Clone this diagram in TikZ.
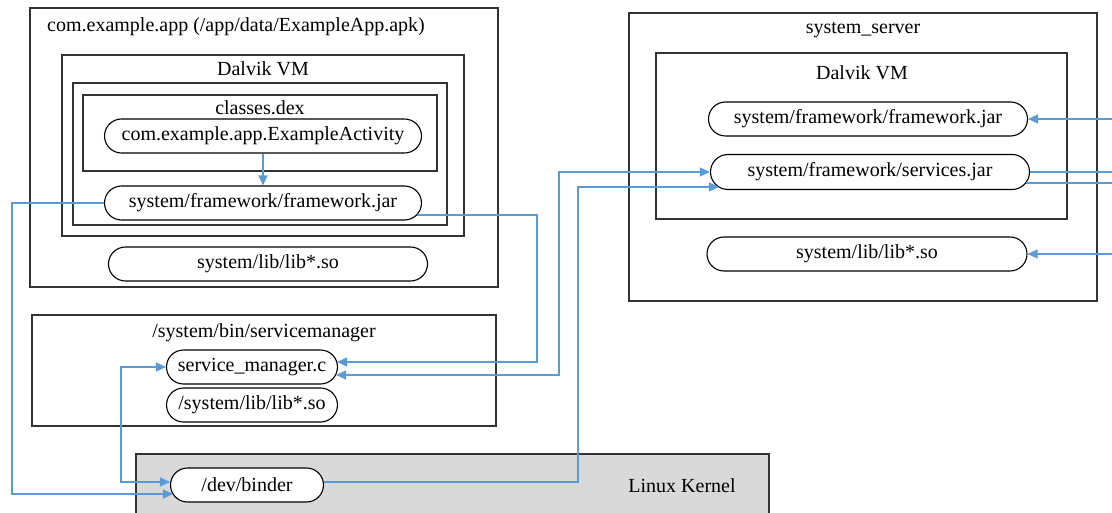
\documentclass[tikz,border=0pt]{standalone}
\usepackage{fontspec}
\setmainfont{Liberation Serif}
\usetikzlibrary{arrows.meta,calc,shapes.misc}
\definecolor{conn}{HTML}{5B9BD5}
\definecolor{kern}{HTML}{D9D9D9}
\begin{document}
\begin{tikzpicture}[x=1pt,y=-1pt,
  frame/.style={draw=black!80,line width=1.3pt,anchor=north west,inner sep=0pt,outer sep=0pt},
  pill/.style={rounded rectangle,draw=black,line width=1.1pt,fill=white,inner sep=0pt,minimum height=34pt,font=\fontsize{20}{24}\selectfont},
  lbl/.style={inner sep=0pt,font=\fontsize{20}{24}\selectfont},
  link/.style={draw=conn,line width=1.4pt},
  tip/.style={-{Triangle[length=10pt,width=9pt]}},
  tips/.style={{Triangle[length=10pt,width=9pt]}-{Triangle[length=10pt,width=9pt]}},
  ]
\useasboundingbox (0,0) rectangle (1112,513);
\clip (0,0) rectangle (1112,513);

% ---- app process
\node[frame,minimum width=468pt,minimum height=279pt] (appbox) at (30,8) {};
\node[lbl,anchor=west] (apptitle) at (47,27) {com.example.app (/app/data/ExampleApp.apk)};
\node[frame,minimum width=402pt,minimum height=181pt] (appvm) at (62,55) {};
\node[lbl] (appvmt) at (263,69) {Dalvik VM};
\node[frame,minimum width=374pt,minimum height=142pt] (appinner) at (73,83) {};
\node[frame,minimum width=354pt,minimum height=76pt] (dex) at (83,95) {};
\node[lbl] (dext) at (260,108) {classes.dex};
\node[pill,minimum width=317pt] (act) at (263,136) {com.example.app.ExampleActivity};
\node[pill,minimum width=317pt] (fwk) at (263,203) {system/framework/framework.jar};
\node[pill,minimum width=319pt] (applib) at (268,264) {system/lib/lib*.so};

% ---- servicemanager
\node[frame,minimum width=464pt,minimum height=111pt] (smbox) at (32,315) {};
\node[lbl] (smt) at (264,333) {/system/bin/servicemanager};
\node[pill,minimum width=171pt] (smc) at (252,367) {service\_manager.c};
\node[pill,minimum width=171pt] (smlib) at (252,405) {/system/lib/lib*.so};

% ---- kernel
\node[frame,fill=kern,minimum width=633pt,minimum height=80pt] (kernel) at (136,454) {};
\node[lbl] (kernt) at (682,486) {Linux Kernel};
\node[pill,minimum width=153pt] (binder) at (247,485) {/dev/binder};

% ---- system_server
\node[frame,minimum width=468pt,minimum height=288pt] (ssbox) at (629,13) {};
\node[lbl] (sst) at (863,30) {system\_server};
\node[frame,minimum width=411pt,minimum height=166pt] (ssvm) at (656,53) {};
\node[lbl] (ssvmt) at (862,73) {Dalvik VM};
\node[pill,minimum width=319pt] (ssfwk) at (868,119) {system/framework/framework.jar};
\node[pill,minimum width=319pt,minimum height=35pt] (sssvc) at (870,172) {system/framework/services.jar};
\node[pill,minimum width=320pt] (sslib) at (867,254) {system/lib/lib*.so};

% ---- corner / edge coordinates
\coordinate (lx1) at (12,494);
\coordinate (rx1) at (537,362);
\coordinate (rx2) at (559,375);
\coordinate (rx3) at (578,187);
\coordinate (lx2) at (121,482);
\coordinate (ex1) at (1112,119);
\coordinate (ex2) at (1112,172);
\coordinate (ex3) at (1112,183);
\coordinate (ex4) at (1112,254);

% ---- connectors
\draw[link,tip] (act.south) -- (fwk.north);
\draw[link,tip] (fwk.west) -| (lx1) -- ($(binder.west)+(3,9)$);
\draw[link,tip] ($(fwk.east)+(-5,12)$) -| (rx1) -- ($(smc.east)+(-1,-5)$);
\draw[link,tips] (sssvc.west) -| (rx2) -- ($(smc.east)+(-2,8)$);
\draw[link,tip] ($(binder.east)+(0,-3)$) -| (rx3) -- ($(sssvc.west)+(9,15)$);
\draw[link,tips] (smc.west) -| (lx2) -- ($(binder.west)+(0,-3)$);
\draw[link,tip] (ex1) -- (ssfwk.east);
\draw[link] (sssvc.east) -- (ex2);
\draw[link] ($(sssvc.east)+(-4,11)$) -- (ex3);
\draw[link,tip] (ex4) -- (sslib.east);
\end{tikzpicture}
\end{document}
